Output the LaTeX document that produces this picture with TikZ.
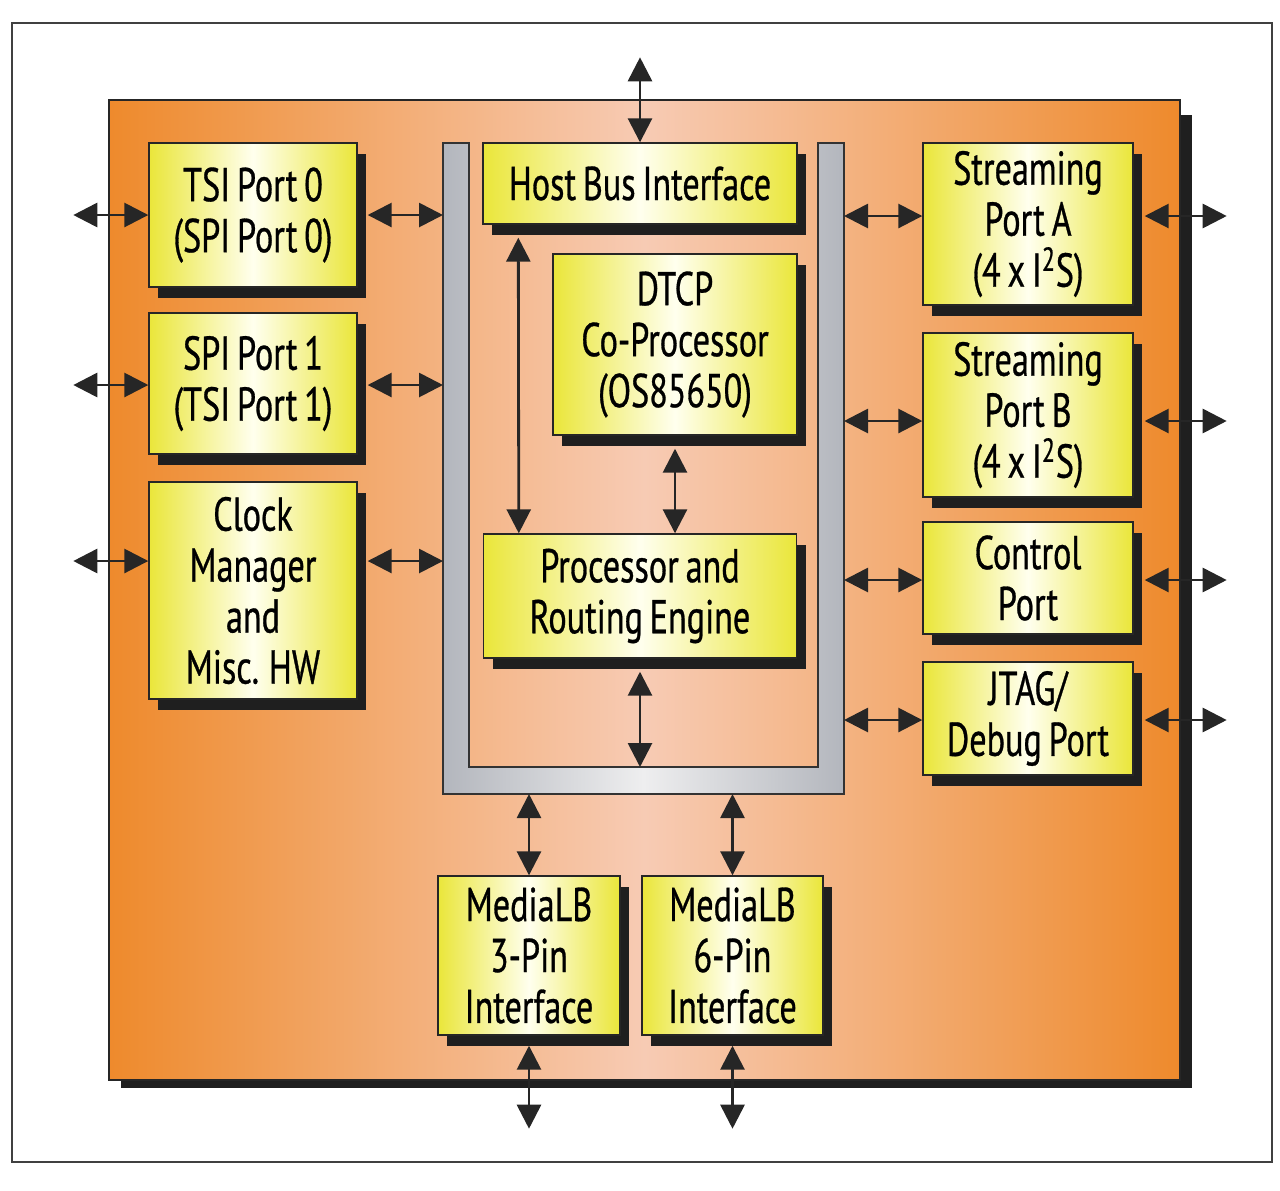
\documentclass[tikz,border=0pt]{standalone}
\usepackage{fontspec}
\newfontfamily\blkfont[FakeStretch=0.72, FakeBold=0.6, WordSpace=0.75]{PT Sans}
\usetikzlibrary{arrows.meta, shadows, positioning}

\definecolor{chipOr}{HTML}{EE8A2C}
\definecolor{chipPk}{HTML}{F7CBB4}
\definecolor{boxY}{HTML}{EAE63A}
\definecolor{boxW}{HTML}{FFFFEE}
\definecolor{busG}{HTML}{B3B6BD}
\definecolor{busW}{HTML}{EEEEEF}

\tikzset{
  blk/.style={draw=black!85, line width=0.8pt, left color=boxY, right color=boxY, middle color=boxW,
    inner sep=0pt, align=center, font=\blkfont\fontsize{27pt}{29pt}\selectfont,
    drop shadow={opacity=1, fill=black!88, shadow xshift=0.18cm, shadow yshift=-0.22cm}},
  bus/.style={draw=black!80, line width=0.8pt, left color=busG, right color=busG, middle color=busW},
  bi/.style={>={Triangle[length=0.48cm,width=0.48cm]}, <->, line width=1.6pt, draw=black!85},
}

\begin{document}
\begin{tikzpicture}
\useasboundingbox (0,0) rectangle (25.6,-23.8);
\draw[black!75, line width=0.7pt] (0.24,-0.46) rectangle (25.44,-23.24);

\fill[black!88] (2.42,-2.3) rectangle (23.84,-21.76);
\draw[black!85, line width=0.8pt, left color=chipOr, right color=chipOr, middle color=chipPk] (2.18,-2.0) rectangle (23.6,-21.6);

\coordinate (busL) at (8.86,-2.86);
\coordinate (busR) at (16.88,-2.86);
\coordinate (busIB) at (12.8,-15.34);
\coordinate (busOB) at (12.8,-15.88);
\draw[bus] (8.86,-2.86) -- (8.86,-15.88) -- (16.88,-15.88) -- (16.88,-2.86) -- (16.36,-2.86)
  -- (16.36,-15.34) -- (9.38,-15.34) -- (9.38,-2.86) -- cycle;

\node[blk, minimum width=4.16cm, minimum height=2.88cm] (tsi) at (5.06,-4.30) {TSI Port 0\\(SPI Port 0)};
\node[blk, minimum width=4.16cm, minimum height=2.82cm] (spi) at (5.06,-7.67) {SPI Port 1\\(TSI Port 1)};
\node[blk, minimum width=4.16cm, minimum height=4.34cm] (clk) at (5.06,-11.81) {Clock\\Manager\\and\\Misc. HW};

\node[blk, minimum width=6.28cm, minimum height=1.62cm] (host) at (12.8,-3.67) {Host Bus Interface};
\node[blk, minimum width=4.88cm, minimum height=3.62cm] (dtcp) at (13.5,-6.89) {DTCP\\Co-Processor\\(OS85650)};
\node[blk, minimum width=6.26cm, minimum height=2.48cm] (proc) at (12.8,-11.92) {Processor and\\Routing Engine};

\node[blk, minimum width=4.2cm, minimum height=3.24cm] (strA) at (20.56,-4.48) {Streaming\\Port A\\(4 x I\textsuperscript{2}S)};
\node[blk, minimum width=4.2cm, minimum height=3.28cm] (strB) at (20.56,-8.30) {Streaming\\Port B\\(4 x I\textsuperscript{2}S)};
\node[blk, minimum width=4.2cm, minimum height=2.24cm] (ctrl) at (20.56,-11.56) {Control\\Port};
\node[blk, minimum width=4.2cm, minimum height=2.26cm] (jtag) at (20.56,-14.37) {JTAG/\\Debug Port};

\node[blk, minimum width=3.64cm, minimum height=3.18cm] (ml3) at (10.58,-19.11) {MediaLB\\3-Pin\\Interface};
\node[blk, minimum width=3.62cm, minimum height=3.18cm] (ml6) at (14.65,-19.11) {MediaLB\\6-Pin\\Interface};

\foreach \n/\dy in {tsi/0, spi/-0.03, clk/0.59}{
  \coordinate (a) at ([yshift=\dy cm]\n.west);
  \coordinate (b) at ([yshift=\dy cm]\n.east);
  \draw[bi] (a) -- ([xshift=-1.5cm]a);
  \draw[bi] ([xshift=0.2cm]b) -- (b -| busL);
}
\foreach \n/\dy in {strA/0.16, strB/-0.12, ctrl/-0.04, jtag/-0.03}{
  \coordinate (a) at ([yshift=\dy cm]\n.west);
  \coordinate (b) at ([yshift=\dy cm]\n.east);
  \draw[bi] (a -| busR) -- (a);
  \draw[bi] ([xshift=0.22cm]b) -- ([xshift=1.86cm]b);
}

\draw[bi] (host.north) -- ([yshift=1.7cm]host.north);
\draw[bi] ([xshift=0.72cm,yshift=-0.26cm]host.south west) -- ([xshift=0.72cm]proc.north west);
\draw[bi] ([yshift=-0.26cm]dtcp.south) -- (dtcp.south |- proc.north);
\draw[bi] ([yshift=-0.26cm]proc.south) -- (proc.south |- busIB);
\foreach \n in {ml3, ml6}{
  \draw[bi] (\n.north |- busOB) -- (\n.north);
  \draw[bi] ([yshift=-0.2cm]\n.south) -- ([yshift=-1.86cm]\n.south);
}
\end{tikzpicture}
\end{document}
